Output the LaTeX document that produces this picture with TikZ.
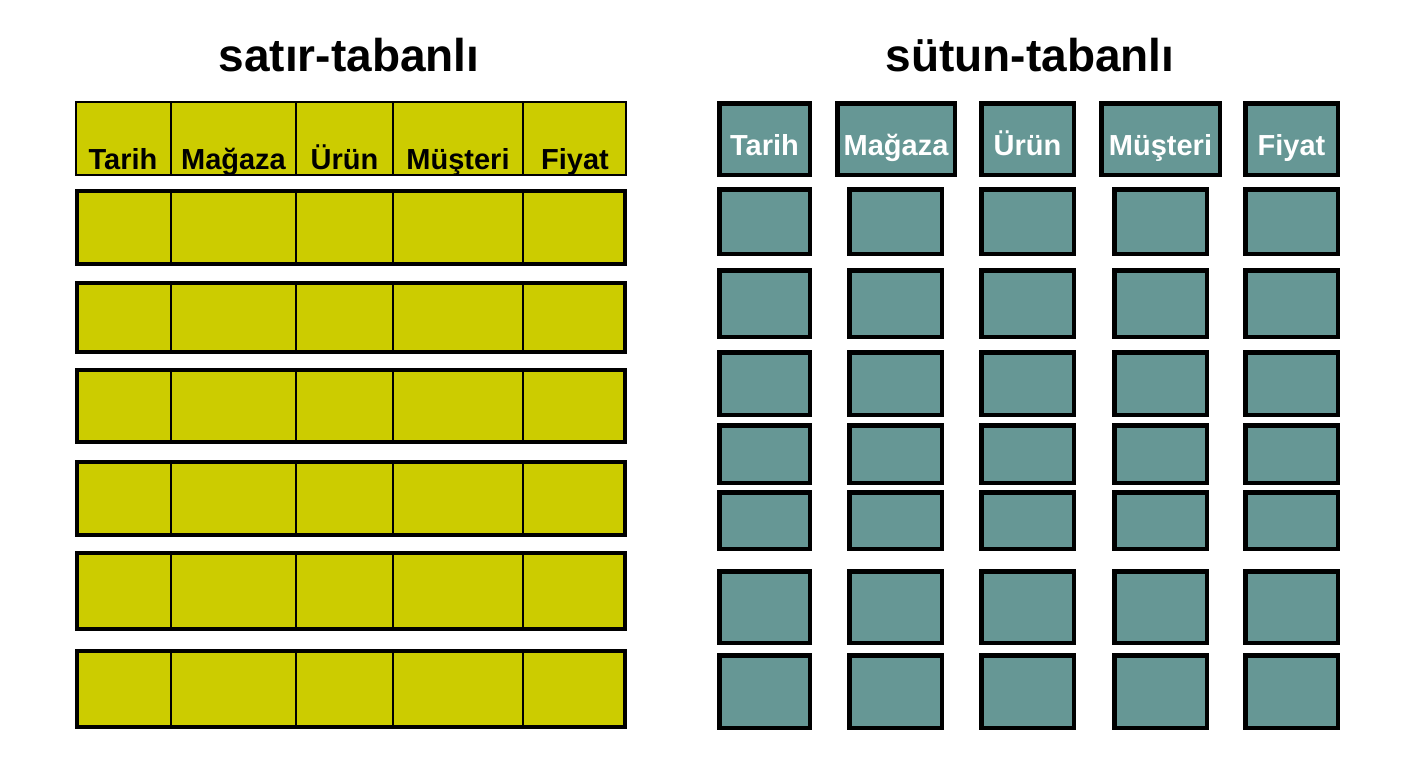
\documentclass[tikz,border=0pt]{standalone}
\usepackage{fontspec}
\setmainfont{Liberation Sans}
\usepackage{tikz}
\usetikzlibrary{positioning}
\definecolor{rowyellow}{RGB}{204,204,0}
\definecolor{colteal}{RGB}{102,151,149}
\tikzset{
  rowbox/.style={fill=rowyellow, draw=black, line width=4pt},
  rowhead/.style={fill=rowyellow, draw=black, line width=2pt},
  rowsep/.style={draw=black, line width=2.2pt},
  colbox/.style={fill=colteal, draw=black, line width=4.5pt},
  titletext/.style={font=\fontsize{46}{50}\selectfont\bfseries, anchor=base, inner sep=0pt},
  headtext/.style={font=\fontsize{29}{32}\selectfont\bfseries, anchor=base, inner sep=0pt},
}

\begin{document}
\begin{tikzpicture}[x=1pt,y=-1pt]
        \useasboundingbox (0,0) rectangle (1408,768);
        \fill[white] (0,0) rectangle (1408,768);
        \def\tl{75}
        \def\tr{627}
        %Titles
        \node[titletext] (rowtitle) at (349,72) {satır-tabanlı};
        \node[titletext] (coltitle) at (1030,71) {sütun-tabanlı};
        %Row based header
        \filldraw[rowhead] (\tl+1,102) rectangle (\tr-1,175);
        \foreach \x in {171,296,393,523}
          {
            \draw[line width=1.6pt] (\x,102) -- (\x,175);
          }
        \foreach \xa/\xb/\lbl [count=\i] in {75/171/Tarih, 171/296/Mağaza, 296/393/Ürün, 393/523/Müşteri, 523/627/Fiyat}
          {
            \node[headtext] (rowhead\i) at ({(\xa+\xb)/2},169) {\lbl};
          }
        %Row based records
        \foreach \ya/\yb in {189/266, 281/354, 368/444, 460/537, 551/631, 649/729}
          {
            \filldraw[rowbox] (\tl+2,\ya+2) rectangle (\tr-2,\yb-2);
            \foreach \x in {171,296,393,523}
              {
                \draw[rowsep] (\x,\ya+2) -- (\x,\yb-2);
              }
          }
        %Column based header
        \foreach \xa/\xb/\lbl [count=\i] in {717/812/Tarih, 835/957/Mağaza, 979/1076/Ürün, 1099/1222/Müşteri, 1243/1340/Fiyat}
          {
            \filldraw[colbox] (\xa+2.25,103.25) rectangle (\xb-2.25,174.75);
            \node[headtext, white] (colhead\i) at ({(\xa+\xb)/2},155) {\lbl};
          }
        %Column based values
        \foreach \ya/\yb in {187/256, 268/339, 350/417, 423/485, 490/551, 569/645, 653/730}
          {
            \foreach \xa/\xb in {717/812, 847/944, 979/1076, 1112/1209, 1243/1340}
              {
                \filldraw[colbox] (\xa+2.25,\ya+2.25) rectangle (\xb-2.25,\yb-2.25);
              }
          }
      \end{tikzpicture}
\end{document}
